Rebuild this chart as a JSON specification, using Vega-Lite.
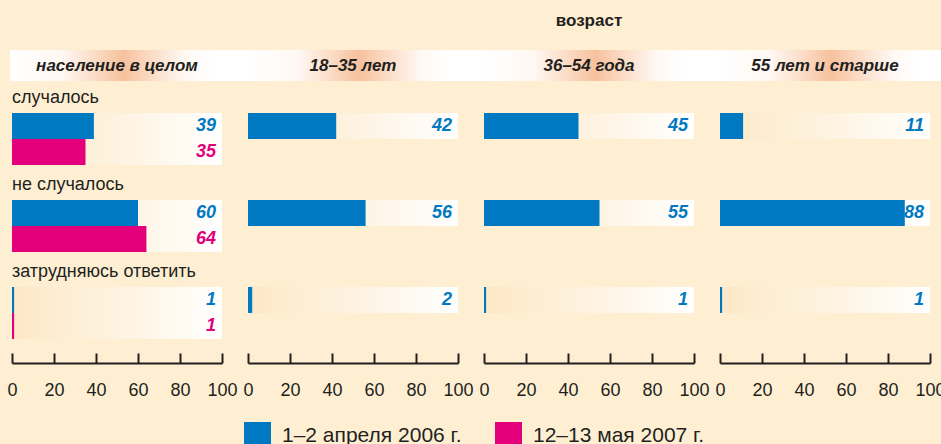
{
  "$schema": "https://vega.github.io/schema/vega-lite/v6.json",
  "background": "#feefd3",
  "padding": {"left": 6, "top": 12, "right": 0, "bottom": 0},
  "config": {
    "view": {"stroke": null},
    "font": "Liberation Sans Narrow, Liberation Sans, Arial Narrow, sans-serif"
  },
  "datasets": {
    "panels": [
      {"panel": "население в целом"},
      {"panel": "18–35 лет"},
      {"panel": "36–54 года"},
      {"panel": "55 лет и старше"}
    ],
    "main": [
      {"panel": "население в целом", "question": "случалось", "period": "1–2 апреля 2006 г.", "value": 39},
      {"panel": "население в целом", "question": "случалось", "period": "12–13 мая 2007 г.", "value": 35},
      {"panel": "население в целом", "question": "не случалось", "period": "1–2 апреля 2006 г.", "value": 60},
      {"panel": "население в целом", "question": "не случалось", "period": "12–13 мая 2007 г.", "value": 64},
      {"panel": "население в целом", "question": "затрудняюсь ответить", "period": "1–2 апреля 2006 г.", "value": 1},
      {"panel": "население в целом", "question": "затрудняюсь ответить", "period": "12–13 мая 2007 г.", "value": 1},
      {"panel": "18–35 лет", "question": "случалось", "period": "1–2 апреля 2006 г.", "value": 42},
      {"panel": "18–35 лет", "question": "не случалось", "period": "1–2 апреля 2006 г.", "value": 56},
      {"panel": "18–35 лет", "question": "затрудняюсь ответить", "period": "1–2 апреля 2006 г.", "value": 2},
      {"panel": "36–54 года", "question": "случалось", "period": "1–2 апреля 2006 г.", "value": 45},
      {"panel": "36–54 года", "question": "не случалось", "period": "1–2 апреля 2006 г.", "value": 55},
      {"panel": "36–54 года", "question": "затрудняюсь ответить", "period": "1–2 апреля 2006 г.", "value": 1},
      {"panel": "55 лет и старше", "question": "случалось", "period": "1–2 апреля 2006 г.", "value": 11},
      {"panel": "55 лет и старше", "question": "не случалось", "period": "1–2 апреля 2006 г.", "value": 88},
      {"panel": "55 лет и старше", "question": "затрудняюсь ответить", "period": "1–2 апреля 2006 г.", "value": 1}
    ]
  },
  "spacing": 0,
  "vconcat": [
    {
      "data": {"name": "panels"},
      "facet": {
        "column": {
          "field": "panel",
          "type": "nominal",
          "sort": ["население в целом", "18–35 лет", "36–54 года", "55 лет и старше"],
          "title": null,
          "header": {
            "labelExpr": "datum.value === '36–54 года' ? 'возраст' : ''",
            "labelFontSize": 17,
            "labelFontWeight": "bold",
            "labelColor": "#231f20",
            "labelPadding": 20
          }
        }
      },
      "spacing": 26,
      "bounds": "flush",
      "spec": {
        "width": 210,
        "height": 31,
        "layer": [
          {
            "mark": {
              "type": "rect",
              "color": {
                "gradient": "linear", "x1": 0, "y1": 0, "x2": 1, "y2": 0,
                "stops": [
                  {"offset": 0, "color": "#ffffff"},
                  {"offset": 0.22, "color": "#fff8f3"},
                  {"offset": 0.36, "color": "#fbdcc6"},
                  {"offset": 0.48, "color": "#f7c19d"},
                  {"offset": 0.6, "color": "#fbdcc6"},
                  {"offset": 0.74, "color": "#fff8f3"},
                  {"offset": 0.86, "color": "#ffffff"},
                  {"offset": 1, "color": "#ffffff"}
                ]
              }
            },
            "encoding": {
              "x": {"datum": -1, "type": "quantitative", "scale": {"domain": [0, 100], "nice": false}, "axis": null},
              "x2": {"datum": 111.4}
            }
          },
          {
            "mark": {"type": "text", "fontSize": 17, "fontWeight": "bold", "fontStyle": "italic", "color": "#231f20"},
            "encoding": {
              "x": {"datum": 50, "type": "quantitative"},
              "text": {"field": "panel"}
            }
          }
        ]
      }
    },
    {
      "data": {"name": "main"},
      "facet": {
        "column": {
          "field": "panel",
          "type": "nominal",
          "sort": ["население в целом", "18–35 лет", "36–54 года", "55 лет и старше"],
          "title": null,
          "header": {"labels": false}
        }
      },
      "spacing": 26,
      "bounds": "flush",
      "spec": {
        "width": 210,
        "height": 282,
        "encoding": {
          "y": {
            "field": "question",
            "type": "nominal",
            "sort": ["случалось", "не случалось", "затрудняюсь ответить"],
            "axis": null,
            "scale": {"paddingInner": 0.402, "paddingOuter": 0.322, "align": 0.571}
          }
        },
        "layer": [
          {
            "mark": {
              "type": "bar",
              "color": {
                "gradient": "linear", "x1": 0, "y1": 0, "x2": 1, "y2": 0,
                "stops": [
                  {"offset": 0, "color": "#fde8c6"},
                  {"offset": 0.6, "color": "#fef5e6"},
                  {"offset": 1, "color": "#ffffff"}
                ]
              }
            },
            "encoding": {
              "x": {
                "datum": 0,
                "type": "quantitative",
                "scale": {"domain": [0, 100], "nice": false},
                "axis": {
                  "values": [0, 20, 40, 60, 80, 100],
                  "title": null,
                  "grid": false,
                  "domainColor": "#231f20",
                  "domainWidth": 2,
                  "tickColor": "#231f20",
                  "tickWidth": 2,
                  "tickSize": -10,
                  "labelPadding": 28,
                  "labelFontSize": 18,
                  "labelColor": "#231f20",
                  "labelFlush": false
                }
              },
              "x2": {"datum": 100},
              "yOffset": {
                "field": "period",
                "type": "nominal",
                "sort": ["1–2 апреля 2006 г.", "12–13 мая 2007 г."],
                "scale": {"paddingInner": 0, "paddingOuter": 0}
              }
            }
          },
          {
            "mark": {"type": "bar"},
            "encoding": {
              "x": {"field": "value", "type": "quantitative", "stack": null},
              "yOffset": {
                "field": "period",
                "type": "nominal",
                "sort": ["1–2 апреля 2006 г.", "12–13 мая 2007 г."]
              },
              "color": {
                "field": "period",
                "type": "nominal",
                "scale": {"domain": ["1–2 апреля 2006 г.", "12–13 мая 2007 г."], "range": ["#0079c2", "#e3007a"]},
                "legend": {
                  "title": null,
                  "orient": "none",
                  "legendX": 232,
                  "legendY": 372,
                  "direction": "horizontal",
                  "columns": 2,
                  "symbolType": "square",
                  "symbolSize": 729,
                  "symbolStrokeWidth": 0,
                  "symbolOpacity": 1,
                  "labelFontSize": 21,
                  "labelLimit": 400,
                  "labelColor": "#231f20",
                  "labelOffset": 11,
                  "columnPadding": 33,
                  "padding": 0
                }
              }
            }
          },
          {
            "mark": {"type": "text", "align": "right", "dx": -6, "fontSize": 18, "fontWeight": "bold", "fontStyle": "italic"},
            "encoding": {
              "x": {"datum": 100, "type": "quantitative"},
              "yOffset": {
                "field": "period",
                "type": "nominal",
                "sort": ["1–2 апреля 2006 г.", "12–13 мая 2007 г."]
              },
              "text": {"field": "value", "type": "quantitative"},
              "color": {"field": "period", "type": "nominal", "legend": null}
            }
          },
          {
            "transform": [
              {"filter": "datum.panel === 'население в целом' && datum.period === '1–2 апреля 2006 г.'"}
            ],
            "mark": {"type": "text", "align": "left", "baseline": "middle", "dy": -15, "fontSize": 18, "color": "#231f20"},
            "encoding": {
              "x": {"datum": 0, "type": "quantitative"},
              "y": {"field": "question", "type": "nominal", "bandPosition": 0, "sort": ["случалось", "не случалось", "затрудняюсь ответить"]},
              "text": {"field": "question"}
            }
          }
        ]
      }
    }
  ]
}
